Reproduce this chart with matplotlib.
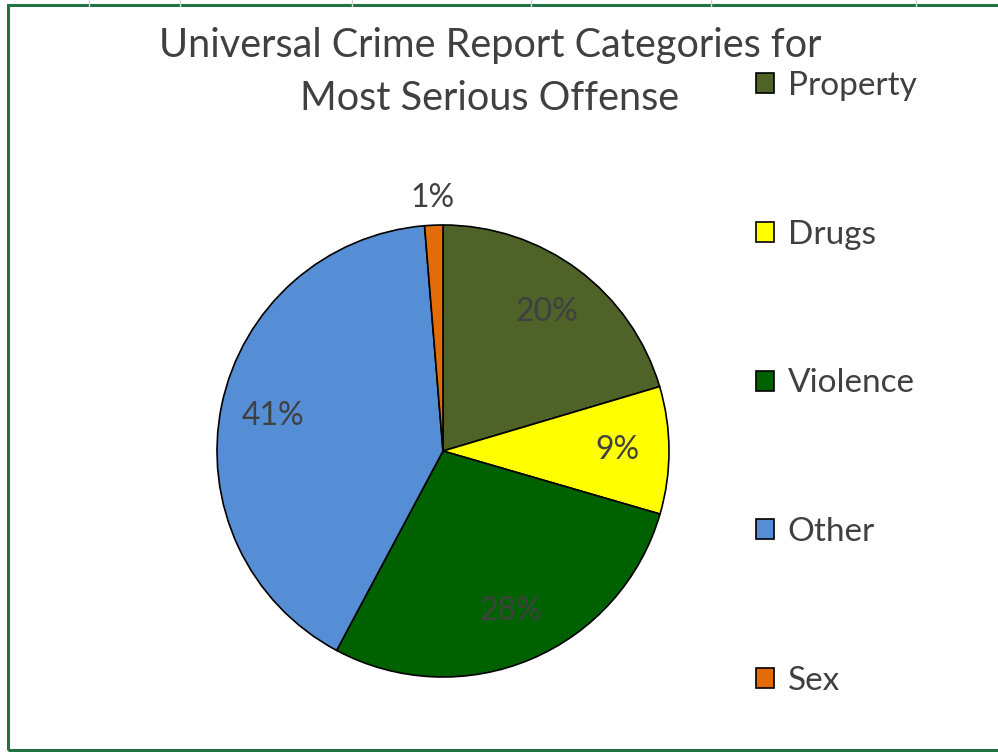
import matplotlib
matplotlib.use("Agg")
import matplotlib.pyplot as plt
from matplotlib.patches import Rectangle
from matplotlib.lines import Line2D

# data
categories = ["Property", "Drugs", "Violence", "Other", "Sex"]
shares     = [20.4, 9.1, 28.3, 40.9, 1.3]
colors     = ["#4f6228", "#ffff00", "#006100", "#558ed5", "#e36c09"]
title_lines = ["Universal Crime Report Categories for", "Most Serious Offense"]

W, H = 998, 752
plt.rcParams["font.family"] = ["Lato", "DejaVu Sans"]
TXT = "#404040"

fig = plt.figure(figsize=(W / 100, H / 100), dpi=100)
fig.patch.set_facecolor("white")

# spreadsheet bits around the chart: column gridlines and green selection border
for gx in [89, 180, 352, 531, 711, 916]:
    fig.add_artist(Line2D([gx / W, gx / W], [1, 1 - 6 / H], color="#d4d4d4", lw=1))
fig.add_artist(Rectangle((8 / W, 2 / H), 1.2, 1 - 7 / H, fill=False,
                         edgecolor="#217346", lw=2.2))

# pie axes, centre (443, 451) px, radius 226 px
cx, cy, r = 443, 451, 226
ax = fig.add_axes([(cx - r) / W, (H - cy - r) / H, 2 * r / W, 2 * r / H])
wedges, _, autotexts = ax.pie(
    shares, colors=colors, startangle=90, counterclock=False, radius=1,
    wedgeprops=dict(edgecolor="black", linewidth=1.2),
    autopct=lambda p: f"{p:.0f}%", pctdistance=0.77,
    textprops=dict(fontsize=23, color=TXT),
)
# the tiny slice gets its label outside
x, y = autotexts[-1].get_position()
autotexts[-1].set_position((x * 1.12 / 0.77, y * 1.12 / 0.77))
ax.set_xlim(-1, 1)
ax.set_ylim(-1, 1)
ax.axis("off")

# title as two lines so the first line can sit just above the legend
for line, ty in zip(title_lines, [46, 99]):
    fig.text(490 / W, 1 - ty / H, line, ha="center", va="center",
             fontsize=28.5, color=TXT)

fig.legend(wedges, categories, loc="upper left", bbox_to_anchor=(756 / W, 1 - 71 / H),
           frameon=False, fontsize=24, labelspacing=3.56, handlelength=0.55,
           handleheight=0.55, handletextpad=0.4, labelcolor=TXT,
           borderaxespad=0, borderpad=0)

fig.savefig("out.png", dpi=100)
